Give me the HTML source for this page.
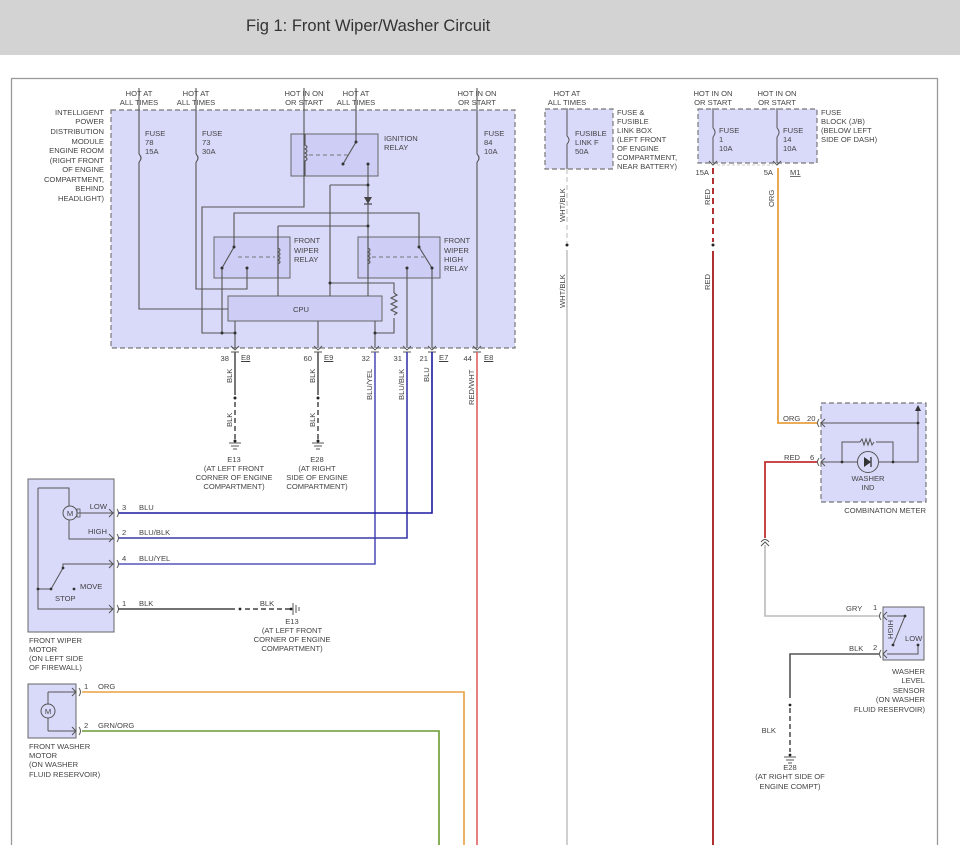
<!DOCTYPE html>
<html><head><meta charset="utf-8"><style>
html,body{margin:0;padding:0;background:#fff;}
svg{display:block;}
text{font-family:"Liberation Sans",sans-serif;font-size:7.6px;fill:#444;}
.t{font-family:"Liberation Sans",sans-serif;}
</style></head><body>
<svg width="960" height="860" viewBox="0 0 960 860" xmlns="http://www.w3.org/2000/svg">
<rect x="0" y="0" width="960" height="55" fill="#d3d3d3"/>
<text x="246" y="31" style="font-size:16.5px;fill:#333">Fig 1: Front Wiper/Washer Circuit</text>
<path d="M11.5 845 V78.5 H937.5 V845" fill="none" stroke="#999" stroke-width="1.3"/>

<!-- boxes -->
<g fill="#d9d9fa" stroke="#777" stroke-width="1.2" stroke-dasharray="5,3">
<rect x="111" y="110" width="404" height="238"/>
<rect x="545" y="109" width="68" height="60"/>
<rect x="698" y="109" width="119" height="54"/>
<rect x="821" y="403" width="105" height="99"/>
</g>
<g fill="#cdcdf5" stroke="#666" stroke-width="1">
<rect x="291" y="134" width="87" height="42"/>
<rect x="214" y="237" width="76" height="41"/>
<rect x="358" y="237" width="82" height="41"/>
<rect x="228" y="296" width="154" height="25"/>
</g>
<g fill="#d9d9fa" stroke="#666" stroke-width="1">
<rect x="28" y="479" width="86" height="153"/>
<rect x="28" y="684" width="48" height="54"/>
<rect x="883" y="607" width="41" height="53"/>
</g>

<!-- IPDM internal wiring -->
<g fill="none" stroke="#555" stroke-width="1.1">
<path d="M139 88 V154 M139 162 V309 H228"/>
<path d="M196 88 V154 M196 162 V289 H247 V268"/>
<path d="M304 88 V207 H202 V333 H235"/>
<path d="M356 88 V142 L343 164"/>
<path d="M368 164 V296"/>
<path d="M330 185 H368 M330 185 V296"/>
<path d="M330 283 H394 V293 M394 318 V333 H375"/>
<path d="M234 247 V213 H419 V247 L432 268"/>
<path d="M222 268 L234 247 M222 268 V333"/>
<path d="M278 226 H368 M278 226 V296"/>
<path d="M235 321 V348 M318 321 V348 M375 321 V348 M407 268 V348 M432 268 V348 M247 268 V270"/>
<path d="M477 88 V154 M477 162 V348"/>
<!-- fuse squiggles -->
<path d="M139 154 q4 4 0 8 M196 154 q4 4 0 8 M477 154 q4 4 0 8"/>
<!-- coils -->
<path d="M305 134 V145 q4 2 0 4 q4 2 0 4 q4 2 0 4 q4 2 0 4 V176" />
<path d="M278 237 V248 q4 2 0 4 q4 2 0 4 q4 2 0 4 q4 2 0 4 V278"/>
<path d="M368 237 V248 q4 2 0 4 q4 2 0 4 q4 2 0 4 q4 2 0 4 V278"/>
<!-- resistor -->
<path d="M394 293 l3 2 l-6 3 l6 3 l-6 3 l6 3 l-6 3 l6 3 l-3 2"/>
</g>
<g stroke="#777" stroke-width="0.9" stroke-dasharray="4,3">
<path d="M309 155 H350 M238 257 H275 M372 257 H424"/>
</g>
<polygon points="364,197 372,197 368,204" fill="#444"/>
<path d="M364 204 H372" stroke="#444" stroke-width="1.2"/>
<g fill="#333">
<circle cx="356" cy="142" r="1.5"/><circle cx="343" cy="164" r="1.5"/><circle cx="368" cy="164" r="1.5"/>
<circle cx="368" cy="185" r="1.5"/><circle cx="368" cy="226" r="1.5"/><circle cx="330" cy="283" r="1.5"/>
<circle cx="234" cy="247" r="1.5"/><circle cx="222" cy="268" r="1.5"/><circle cx="247" cy="268" r="1.5"/>
<circle cx="419" cy="247" r="1.5"/><circle cx="432" cy="268" r="1.5"/><circle cx="407" cy="268" r="1.5"/>
<circle cx="222" cy="333" r="1.5"/><circle cx="235" cy="333" r="1.5"/><circle cx="375" cy="333" r="1.5"/>
</g>

<!-- IPDM labels -->
<g text-anchor="middle">
<text x="139" y="96">HOT AT</text><text x="139" y="105">ALL TIMES</text>
<text x="196" y="96">HOT AT</text><text x="196" y="105">ALL TIMES</text>
<text x="304" y="96">HOT IN ON</text><text x="304" y="105">OR START</text>
<text x="356" y="96">HOT AT</text><text x="356" y="105">ALL TIMES</text>
<text x="477" y="96">HOT IN ON</text><text x="477" y="105">OR START</text>
<text x="567" y="96">HOT AT</text><text x="567" y="105">ALL TIMES</text>
<text x="713" y="96">HOT IN ON</text><text x="713" y="105">OR START</text>
<text x="777" y="96">HOT IN ON</text><text x="777" y="105">OR START</text>
<text x="301" y="312">CPU</text>
</g>
<g text-anchor="end">
<text x="104" y="115">INTELLIGENT</text><text x="104" y="124">POWER</text><text x="104" y="134">DISTRIBUTION</text>
<text x="104" y="144">MODULE</text><text x="104" y="153">ENGINE ROOM</text><text x="104" y="163">(RIGHT FRONT</text>
<text x="104" y="172">OF ENGINE</text><text x="104" y="182">COMPARTMENT,</text><text x="104" y="191">BEHIND</text>
<text x="104" y="201">HEADLIGHT)</text>
</g>
<text x="145" y="136">FUSE</text><text x="145" y="145">78</text><text x="145" y="154">15A</text>
<text x="202" y="136">FUSE</text><text x="202" y="145">73</text><text x="202" y="154">30A</text>
<text x="484" y="136">FUSE</text><text x="484" y="145">84</text><text x="484" y="154">10A</text>
<text x="384" y="141">IGNITION</text><text x="384" y="150">RELAY</text>
<text x="294" y="243">FRONT</text><text x="294" y="253">WIPER</text><text x="294" y="262">RELAY</text>
<text x="444" y="243">FRONT</text><text x="444" y="253">WIPER</text><text x="444" y="262">HIGH</text><text x="444" y="271">RELAY</text>

<!-- pins -->
<g text-anchor="end">
<text x="229" y="361">38</text><text x="312" y="361">60</text><text x="370" y="361">32</text>
<text x="402" y="361">31</text><text x="428" y="361">21</text><text x="472" y="361">44</text>
</g>
<g text-decoration="underline">
<text x="241" y="360">E8</text><text x="324" y="360">E9</text><text x="439" y="360">E7</text><text x="484" y="360">E8</text>
</g>
<g fill="none" stroke="#555" stroke-width="0.9">
<path d="M231 346 l4 4 l4 -4 M314 346 l4 4 l4 -4 M371 346 l4 4 l4 -4 M403 346 l4 4 l4 -4 M428 346 l4 4 l4 -4 M473 346 l4 4 l4 -4"/>
<path d="M231 352 h8 M314 352 h8 M371 352 h8 M403 352 h8 M428 352 h8 M473 352 h8"/>
</g>

<!-- BLK grounds -->
<g stroke="#555" stroke-width="1.6" fill="none">
<path d="M235 352 V395 M318 352 V395"/>
<path d="M235 402 V440 M318 402 V440" stroke-dasharray="5,3"/>
</g>
<g stroke="#555" stroke-width="1" fill="none">
<path d="M229 443 h12 M231 446 h8 M233 449 h4 M312 443 h12 M314 446 h8 M316 449 h4"/>
</g>
<circle cx="235" cy="398" r="1.5" fill="#222"/><circle cx="318" cy="398" r="1.5" fill="#222"/>
<circle cx="235" cy="441" r="1.5" fill="#222"/><circle cx="318" cy="441" r="1.5" fill="#222"/>
<text transform="translate(232,383) rotate(-90)">BLK</text>
<text transform="translate(315,383) rotate(-90)">BLK</text>
<text transform="translate(232,427) rotate(-90)">BLK</text>
<text transform="translate(315,427) rotate(-90)">BLK</text>
<g text-anchor="middle">
<text x="234" y="462">E13</text><text x="234" y="471">(AT LEFT FRONT</text><text x="234" y="480">CORNER OF ENGINE</text><text x="234" y="489">COMPARTMENT)</text>
<text x="317" y="462">E28</text><text x="317" y="471">(AT RIGHT</text><text x="317" y="480">SIDE OF ENGINE</text><text x="317" y="489">COMPARTMENT)</text>
</g>

<!-- blue wires -->
<g fill="none" stroke-width="1.6">
<path d="M375 352 V564 H118" stroke="#5555bb"/>
<path d="M407 352 V538 H118" stroke="#3a3aaa"/>
<path d="M432 352 V513 H118" stroke="#1a1aa0"/>
<path d="M477 352 V845" stroke="#e06060"/>
</g>
<text transform="translate(372,400) rotate(-90)">BLU/YEL</text>
<text transform="translate(404,400) rotate(-90)">BLU/BLK</text>
<text transform="translate(429,382) rotate(-90)">BLU</text>
<text transform="translate(474,405) rotate(-90)">RED/WHT</text>

<!-- wiper motor -->
<g fill="none" stroke="#555" stroke-width="1">
<path d="M38 488 H69 V506 M69 520 V539 H114 M77 513 H114"/>
<path d="M38 488 V609 H114 M38 589 H51 L63 568 V564 H114"/>
<path d="M109 509 l4 4 l-4 4 M109 534 l4 4 l-4 4 M109 560 l4 4 l-4 4 M109 605 l4 4 l-4 4"/>
<path d="M117 509 q3 4 0 8 M117 534 q3 4 0 8 M117 560 q3 4 0 8 M117 605 q3 4 0 8"/>
</g>
<circle cx="70" cy="513" r="7" fill="#d9d9fa" stroke="#555"/>
<rect x="77" y="509" width="3" height="8" fill="none" stroke="#555" stroke-width="0.8"/>
<text x="70" y="516" text-anchor="middle">M</text>
<g fill="#333"><circle cx="38" cy="589" r="1.4"/><circle cx="51" cy="589" r="1.4"/><circle cx="63" cy="568" r="1.4"/><circle cx="74" cy="589" r="1.4"/></g>
<text x="107" y="509" text-anchor="end">LOW</text><text x="107" y="534" text-anchor="end">HIGH</text>
<text x="80" y="589">MOVE</text><text x="55" y="601">STOP</text>
<text x="122" y="510">3</text><text x="139" y="510">BLU</text>
<text x="122" y="535">2</text><text x="139" y="535">BLU/BLK</text>
<text x="122" y="561">4</text><text x="139" y="561">BLU/YEL</text>
<text x="122" y="606">1</text><text x="139" y="606">BLK</text>
<path d="M118 609 H235" stroke="#444" stroke-width="1.6"/>
<path d="M245 609 H290" stroke="#444" stroke-width="1.4" stroke-dasharray="5,3"/>
<circle cx="240" cy="609" r="1.4" fill="#222"/><circle cx="291" cy="609" r="1.4" fill="#222"/>
<path d="M293 603 v12 M296 605 v8 M299 607 v4" stroke="#555"/>
<text x="267" y="606" text-anchor="middle">BLK</text>
<g text-anchor="middle">
<text x="292" y="624">E13</text><text x="292" y="633">(AT LEFT FRONT</text><text x="292" y="642">CORNER OF ENGINE</text><text x="292" y="651">COMPARTMENT)</text>
</g>
<text x="29" y="643">FRONT WIPER</text><text x="29" y="652">MOTOR</text><text x="29" y="661">(ON LEFT SIDE</text><text x="29" y="670">OF FIREWALL)</text>

<!-- washer motor -->
<g fill="none" stroke="#555" stroke-width="1">
<path d="M48 692 V704 M48 718 V731 M48 692 H76 M48 731 H76"/>
<path d="M72 688 l4 4 l-4 4 M72 727 l4 4 l-4 4 M79 688 q3 4 0 8 M79 727 q3 4 0 8"/>
</g>
<circle cx="48" cy="711" r="7" fill="#d9d9fa" stroke="#555"/>
<text x="48" y="714" text-anchor="middle">M</text>
<path d="M82 692 H464 V845" fill="none" stroke="#e8a040" stroke-width="1.6"/>
<path d="M82 731 H439 V845" fill="none" stroke="#6a9a30" stroke-width="1.6"/>
<text x="84" y="689">1</text><text x="98" y="689">ORG</text>
<text x="84" y="728">2</text><text x="98" y="728">GRN/ORG</text>
<text x="29" y="749">FRONT WASHER</text><text x="29" y="758">MOTOR</text><text x="29" y="767">(ON WASHER</text><text x="29" y="777">FLUID RESERVOIR)</text>

<!-- fusible link box -->
<path d="M567 108 V136 M567 144 V169" stroke="#555" fill="none"/>
<path d="M567 136 q4 4 0 8" stroke="#555" fill="none"/>
<text x="575" y="136">FUSIBLE</text><text x="575" y="145">LINK F</text><text x="575" y="154">50A</text>
<text x="617" y="115">FUSE &amp;</text><text x="617" y="124">FUSIBLE</text><text x="617" y="133">LINK BOX</text><text x="617" y="142">(LEFT FRONT</text>
<text x="617" y="151">OF ENGINE</text><text x="617" y="160">COMPARTMENT,</text><text x="617" y="169">NEAR BATTERY)</text>
<path d="M567 169 V243" stroke="#ccc" stroke-width="1.4" stroke-dasharray="5,3"/>
<path d="M567 250 V845" stroke="#bbb" stroke-width="1.4"/>
<circle cx="567" cy="245" r="1.5" fill="#222"/>
<text transform="translate(565,222) rotate(-90)">WHT/BLK</text>
<text transform="translate(565,308) rotate(-90)">WHT/BLK</text>

<!-- fuse block -->
<g fill="none" stroke="#555">
<path d="M713 108 V128 M713 137 V163 M777 108 V128 M777 137 V163 M713 128 q4 4 0 9 M777 128 q4 4 0 9"/>
<path d="M709 161 l4 4 l4 -4 M773 161 l4 4 l4 -4"/>
<path d="M717 165 H773" stroke="#ccc" stroke-dasharray="3,2"/>
</g>
<text x="719" y="133">FUSE</text><text x="719" y="142">1</text><text x="719" y="151">10A</text>
<text x="783" y="133">FUSE</text><text x="783" y="142">14</text><text x="783" y="151">10A</text>
<text x="821" y="115">FUSE</text><text x="821" y="124">BLOCK (J/B)</text><text x="821" y="133">(BELOW LEFT</text><text x="821" y="142">SIDE OF DASH)</text>
<text x="709" y="175" text-anchor="end">15A</text><text x="773" y="175" text-anchor="end">5A</text>
<text x="790" y="175" text-decoration="underline">M1</text>
<path d="M713 168 V242" stroke="#b03030" stroke-width="2" stroke-dasharray="6,4"/>
<path d="M713 251 V845" stroke="#b03030" stroke-width="2"/>
<circle cx="713" cy="245" r="1.5" fill="#222"/>
<text transform="translate(710,205) rotate(-90)">RED</text>
<text transform="translate(710,290) rotate(-90)">RED</text>
<path d="M778 168 V423 H817" fill="none" stroke="#e8a040" stroke-width="1.8"/>
<text transform="translate(774,207) rotate(-90)">ORG</text>

<!-- combination meter -->
<g fill="none" stroke="#555" stroke-width="1">
<path d="M821 423 H918 V410 M821 462 H918 V423"/>
<path d="M842 462 V442 H860 M876 442 H893 V462"/>
<path d="M860 442 l2 -3 l2 6 l2 -6 l2 6 l2 -6 l2 6 l2 -3"/>
<path d="M819 419 q-3 4 0 8 M819 458 q-3 4 0 8 M825 419 l-4 4 l4 4 M825 458 l-4 4 l4 4"/>
</g>
<polygon points="915,411 921,411 918,405" fill="#333"/>
<circle cx="868" cy="462" r="10.5" fill="#d9d9fa" stroke="#555"/>
<polygon points="864,457 864,467 871,462" fill="#333"/><path d="M871 457 V467" stroke="#333" stroke-width="1.3"/>
<g fill="#333"><circle cx="918" cy="423" r="1.4"/><circle cx="842" cy="462" r="1.4"/><circle cx="893" cy="462" r="1.4"/></g>
<text x="868" y="481" text-anchor="middle">WASHER</text><text x="868" y="490" text-anchor="middle">IND</text>
<text x="926" y="513" text-anchor="end">COMBINATION METER</text>
<text x="783" y="421">ORG</text><text x="807" y="421">20</text>
<text x="784" y="460">RED</text><text x="810" y="460">6</text>
<path d="M817 462 H765 V538" fill="none" stroke="#c03030" stroke-width="1.8"/>
<path d="M761 542 q4 -5 8 0 M761 546 l4 -4 l4 4" fill="none" stroke="#555"/>
<path d="M765 545 V616 H879" fill="none" stroke="#bbb" stroke-width="1.6"/>
<text x="846" y="611">GRY</text><text x="873" y="610">1</text>
<text x="849" y="651">BLK</text><text x="873" y="650">2</text>
<path d="M879 654 H790 V698" fill="none" stroke="#555" stroke-width="1.6"/>
<path d="M790 708 V752" stroke="#555" stroke-width="1.6" stroke-dasharray="5,3"/>
<circle cx="790" cy="705" r="1.4" fill="#222"/><circle cx="790" cy="755" r="1.4" fill="#222"/>
<path d="M784 757 h12 M786 760 h8 M788 763 h4" stroke="#555"/>
<text x="776" y="733" text-anchor="end">BLK</text>
<g text-anchor="middle"><text x="790" y="770">E28</text><text x="790" y="779">(AT RIGHT SIDE OF</text><text x="790" y="789">ENGINE COMPT)</text></g>
<!-- sensor -->
<g fill="none" stroke="#555" stroke-width="1">
<path d="M887 616 H905 L893 645 M918 645 V654 H887"/>
<path d="M881 612 q-3 4 0 8 M887 612 l-4 4 l4 4 M881 650 q-3 4 0 8 M887 650 l-4 4 l4 4"/>
</g>
<g fill="#333"><circle cx="905" cy="616" r="1.4"/><circle cx="893" cy="645" r="1.4"/><circle cx="918" cy="645" r="1.4"/></g>
<text transform="translate(888,620) rotate(90)">HIGH</text>
<text x="905" y="641">LOW</text>
<g text-anchor="end">
<text x="925" y="674">WASHER</text><text x="925" y="683">LEVEL</text><text x="925" y="693">SENSOR</text><text x="925" y="702">(ON WASHER</text><text x="925" y="712">FLUID RESERVOIR)</text>
</g>
</svg>
</body></html>
